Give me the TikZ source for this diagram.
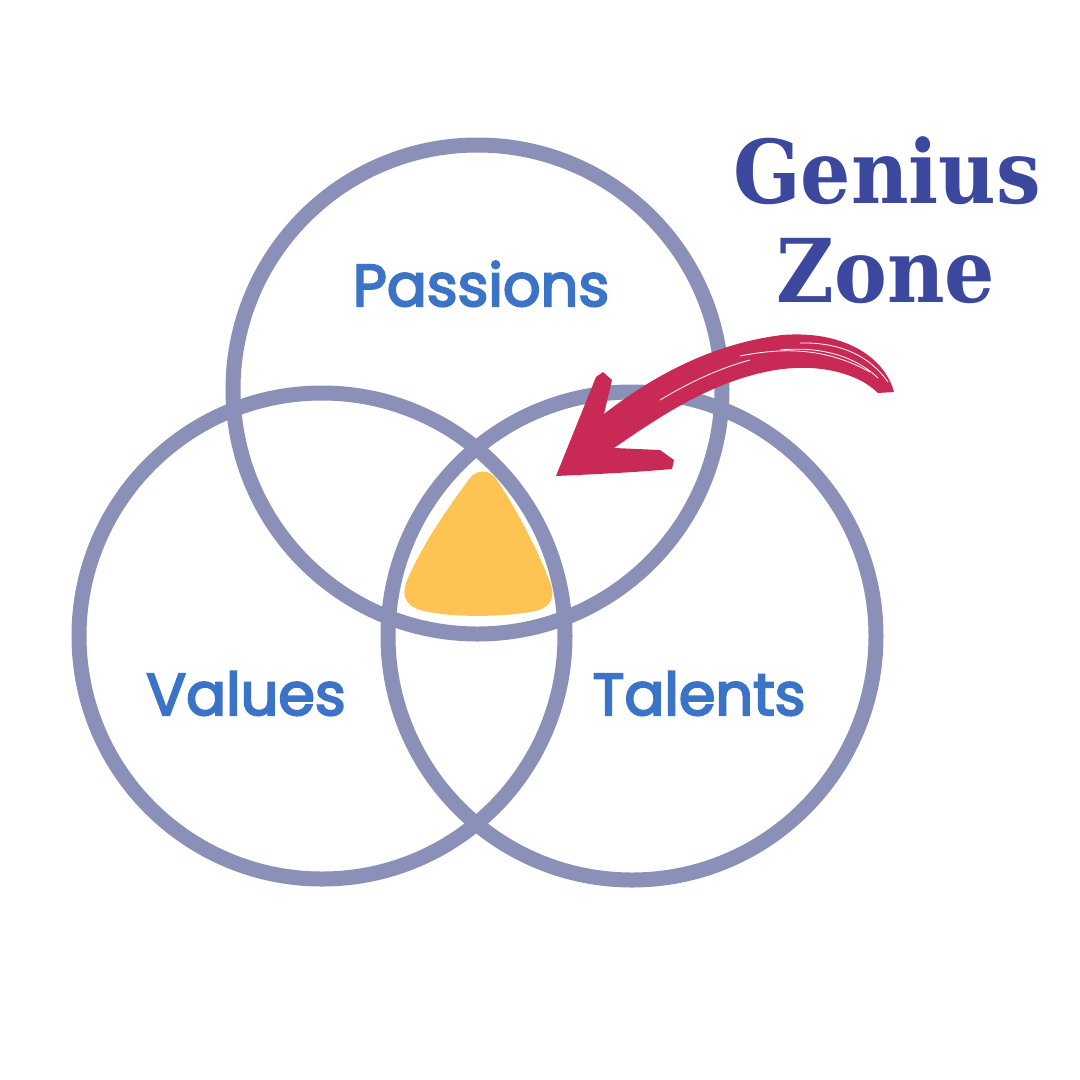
\documentclass[tikz,border=0pt]{standalone}
\usepackage{fontspec}
\setmainfont{DejaVu Serif}
\newfontfamily\labfont{Poppins}[FakeBold=3.5]
\newfontfamily\titlefont{DejaVu Serif}
\definecolor{ringc}{RGB}{138,144,184}
\definecolor{labc}{RGB}{59,115,198}
\definecolor{titlec}{RGB}{60,72,158}
\definecolor{triac}{RGB}{254,196,83}
\definecolor{arrowc}{RGB}{201,42,85}
\tikzset{
  ring/.style={draw=ringc, line width=15pt},
  lab/.style={font=\labfont\fontsize{59}{59}\selectfont, text=labc, anchor=base, inner sep=0pt},
  ttl/.style={font=\titlefont\bfseries\fontsize{88}{88}\selectfont, text=titlec, anchor=base, inner sep=0pt},
  streak/.style={draw=white, line width=0.8pt}
}
\begin{document}
\begin{tikzpicture}[x=1pt,y=-1pt]
\useasboundingbox[fill=white] (0,0) rectangle (1080,1080);
% rings
\draw[ring] (477.5,389.5) circle (244.5);
\draw[ring] (322,636) circle (243);
\draw[ring] (632,636) circle (244);
% genius triangle
\fill[triac] (470,478) .. controls (478,468) and (490,470) .. (497,480)
  .. controls (520,515) and (540,555) .. (551,585)
  .. controls (556,600) and (548,610) .. (530,612)
  .. controls (500,617) and (450,618) .. (420,610)
  .. controls (402,604) and (402,592) .. (408,578)
  .. controls (425,540) and (450,505) .. (470,478) -- cycle;
% brush arrow
\fill[arrowc] (556,476) -- (596,377) -- (603,372) -- (612,380) -- (604,414)
 .. controls (650,378) and (710,344) .. (782,335)
 .. controls (845,330) and (885,358) .. (894,392)
 -- (878,393)
 .. controls (858,373) and (815,361) .. (765,372)
 .. controls (705,385) and (655,420) .. (614,448)
 -- (660,450) -- (674,460) -- (672,469)
 .. controls (640,472) and (600,474) .. (556,476) -- cycle;
\draw[streak] (740,356) .. controls (790,346) and (830,350) .. (870,372);
\draw[streak] (800,343) .. controls (840,342) and (870,356) .. (888,382);
\draw[streak] (780,350) .. controls (820,346) and (855,356) .. (878,378);
\draw[streak] (660,400) .. controls (690,382) and (720,368) .. (750,360);
% labels
\node[lab] (passions) at (481,306) {Passions};
\node[lab] (values) at (246,715) {Values};
\node[lab] (talents) at (699,715) {Talents};
\node[ttl] (genius) at (887,203) {\scalebox{0.9}[1]{Genius}};
\node[ttl] (zone) at (886,302) {\scalebox{0.9}[1]{Zone}};
\end{tikzpicture}
\end{document}
